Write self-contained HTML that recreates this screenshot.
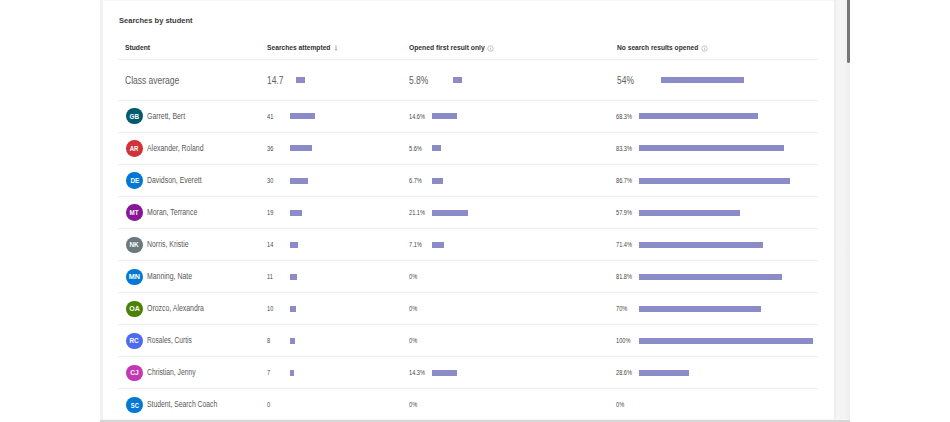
<!DOCTYPE html>
<html><head><meta charset="utf-8">
<style>
*{box-sizing:border-box;margin:0;padding:0}
html,body{width:950px;height:422px;overflow:hidden;background:#fff;font-family:"Liberation Sans",sans-serif}
.card{position:absolute;left:100px;top:0;width:734px;height:424px;background:#fff;border-left:3px solid #f1f1f1;border-top:1px solid #f7f7f7}
.track{position:absolute;left:834px;top:0;width:16px;height:422px;background:linear-gradient(to right,#ededed 0,#f0f0f0 2px,#f5f5f5 3px,#f4f4f4 11px,#f0f0f0 12px,#efefef 16px)}
.thumb{position:absolute;left:846.5px;top:0;width:3.2px;height:63px;background:#777777;border-radius:0 0 2px 2px}
.bottom{position:absolute;left:100px;top:420px;width:750px;height:2px;background:#d6d6d6}
.t{position:absolute;white-space:nowrap;line-height:1;transform-origin:0 0}
.sep{position:absolute;left:118px;width:700px;height:1px;background:#efefef}
.bar{position:absolute;height:6px;background:#8b8cc7}
.av{position:absolute;left:126.3px;width:16.4px;height:16.4px;border-radius:50%;color:#fff;font-size:7.0px;font-weight:700;text-align:center;line-height:16.4px}
.av span{display:inline-block;transform:scaleX(1.0);position:relative;top:0.6px}
.title{font-size:8.0px;font-weight:700;color:#3b3a39;transform:scaleX(0.94);letter-spacing:0px}
.hd{font-size:7.6px;font-weight:700;color:#323130;transform:scaleX(0.888);letter-spacing:0px}
.avg{font-size:10.2px;font-weight:400;color:#605e5c;transform:scaleX(0.833);letter-spacing:0px}
.nm{font-size:8.3px;font-weight:400;color:#5a5856;transform:scaleX(0.834);letter-spacing:0px}
.num{font-size:6.8px;font-weight:400;color:#484644;transform:scaleX(0.83);letter-spacing:0px}
</style></head><body>
<div class="card"></div>
<div class="track"></div>
<div class="thumb"></div>
<div class="t title" style="left:118.90px;top:16.58px">Searches by student</div>
<div class="t hd" style="left:124.80px;top:44.14px">Student</div>
<div class="t hd" style="left:266.90px;top:44.14px;transform:scaleX(0.8791)">Searches attempted</div>
<svg class="arrow" style="position:absolute;left:333.8px;top:45.4px" width="4" height="6" viewBox="0 0 4 6"><path d="M2 0.4V5.3M0.9 4.2L2 5.3L3.1 4.2" stroke="#8a8886" stroke-width="0.7" fill="none"/></svg>
<div class="t hd" style="left:408.90px;top:44.14px">Opened first result only</div>
<div class="t hd" style="left:617.00px;top:44.14px;transform:scaleX(0.8747)">No search results opened</div>
<svg style="position:absolute;left:487.20px;top:45.00px" width="7" height="7" viewBox="0 0 7 7"><circle cx="3.5" cy="3.5" r="2.75" stroke="#a19f9d" stroke-width="0.6" fill="none"/><path d="M3.5 3.1V5.1" stroke="#a19f9d" stroke-width="0.6"/><circle cx="3.5" cy="2.2" r="0.35" fill="#a19f9d"/></svg>
<svg style="position:absolute;left:700.50px;top:45.00px" width="7" height="7" viewBox="0 0 7 7"><circle cx="3.5" cy="3.5" r="2.75" stroke="#a19f9d" stroke-width="0.6" fill="none"/><path d="M3.5 3.1V5.1" stroke="#a19f9d" stroke-width="0.6"/><circle cx="3.5" cy="2.2" r="0.35" fill="#a19f9d"/></svg>
<div class="sep" style="top:59px"></div>
<div class="t avg" style="left:124.80px;top:75.50px">Class average</div>
<div class="t avg" style="left:266.70px;top:75.50px">14.7</div>
<div class="t avg" style="left:409.00px;top:75.50px">5.8%</div>
<div class="t avg" style="left:616.50px;top:75.50px">54%</div>
<div class="bar" style="left:296.2px;top:77.1px;width:9.0px"></div>
<div class="bar" style="left:453.1px;top:77.1px;width:8.7px"></div>
<div class="bar" style="left:660.6px;top:77.1px;width:83.4px"></div>
<div class="sep" style="top:100px"></div>
<div class="av" style="top:108.10px;background:#005b70"><span style="transform:scaleX(0.900)">GB</span></div>
<div class="t nm" style="left:146.50px;top:112.17px">Garrett, Bert</div>
<div class="t num" style="left:266.80px;top:113.82px">41</div>
<div class="t num" style="left:409.00px;top:113.82px">14.6%</div>
<div class="t num" style="left:616.00px;top:113.82px">68.3%</div>
<div class="bar" style="left:289.6px;top:113.30px;width:25.75px"></div>
<div class="bar" style="left:431.7px;top:113.30px;width:25.37px"></div>
<div class="bar" style="left:639.2px;top:113.30px;width:118.84px"></div>
<div class="sep" style="top:132px"></div>
<div class="av" style="top:140.20px;background:#d13438"><span style="transform:scaleX(0.860)">AR</span></div>
<div class="t nm" style="left:146.50px;top:144.17px">Alexander, Roland</div>
<div class="t num" style="left:266.80px;top:145.82px">36</div>
<div class="t num" style="left:409.00px;top:145.82px">5.6%</div>
<div class="t num" style="left:616.00px;top:145.82px">83.3%</div>
<div class="bar" style="left:289.6px;top:145.40px;width:22.61px"></div>
<div class="bar" style="left:431.7px;top:145.40px;width:9.73px"></div>
<div class="bar" style="left:639.2px;top:145.40px;width:144.94px"></div>
<div class="sep" style="top:164px"></div>
<div class="av" style="top:172.30px;background:#0078d4"><span style="transform:scaleX(0.920)">DE</span></div>
<div class="t nm" style="left:146.50px;top:176.17px">Davidson, Everett</div>
<div class="t num" style="left:266.80px;top:177.82px">30</div>
<div class="t num" style="left:409.00px;top:177.82px">6.7%</div>
<div class="t num" style="left:616.00px;top:177.82px">86.7%</div>
<div class="bar" style="left:289.6px;top:177.50px;width:18.84px"></div>
<div class="bar" style="left:431.7px;top:177.50px;width:11.64px"></div>
<div class="bar" style="left:639.2px;top:177.50px;width:150.86px"></div>
<div class="sep" style="top:196px"></div>
<div class="av" style="top:204.40px;background:#881798"><span style="transform:scaleX(0.890)">MT</span></div>
<div class="t nm" style="left:146.50px;top:208.17px">Moran, Terrance</div>
<div class="t num" style="left:266.80px;top:209.82px">19</div>
<div class="t num" style="left:409.00px;top:209.82px">21.1%</div>
<div class="t num" style="left:616.00px;top:209.82px">57.9%</div>
<div class="bar" style="left:289.6px;top:209.60px;width:11.93px"></div>
<div class="bar" style="left:431.7px;top:209.60px;width:36.67px"></div>
<div class="bar" style="left:639.2px;top:209.60px;width:100.75px"></div>
<div class="sep" style="top:228px"></div>
<div class="av" style="top:236.50px;background:#69797e"><span style="transform:scaleX(0.920)">NK</span></div>
<div class="t nm" style="left:146.50px;top:240.17px">Norris, Kristie</div>
<div class="t num" style="left:266.80px;top:241.82px">14</div>
<div class="t num" style="left:409.00px;top:241.82px">7.1%</div>
<div class="t num" style="left:616.00px;top:241.82px">71.4%</div>
<div class="bar" style="left:289.6px;top:241.70px;width:8.79px"></div>
<div class="bar" style="left:431.7px;top:241.70px;width:12.34px"></div>
<div class="bar" style="left:639.2px;top:241.70px;width:124.24px"></div>
<div class="sep" style="top:260px"></div>
<div class="av" style="top:268.60px;background:#0078d4"><span style="transform:scaleX(1.040)">MN</span></div>
<div class="t nm" style="left:146.50px;top:272.17px">Manning, Nate</div>
<div class="t num" style="left:266.80px;top:273.82px">11</div>
<div class="t num" style="left:409.00px;top:273.82px">0%</div>
<div class="t num" style="left:616.00px;top:273.82px">81.8%</div>
<div class="bar" style="left:289.6px;top:273.80px;width:6.91px"></div>
<div class="bar" style="left:639.2px;top:273.80px;width:142.33px"></div>
<div class="sep" style="top:292px"></div>
<div class="av" style="top:300.70px;background:#498205"><span>OA</span></div>
<div class="t nm" style="left:146.50px;top:304.17px">Orozco, Alexandra</div>
<div class="t num" style="left:266.80px;top:305.82px">10</div>
<div class="t num" style="left:409.00px;top:305.82px">0%</div>
<div class="t num" style="left:616.00px;top:305.82px">70%</div>
<div class="bar" style="left:289.6px;top:305.90px;width:6.28px"></div>
<div class="bar" style="left:639.2px;top:305.90px;width:121.80px"></div>
<div class="sep" style="top:324px"></div>
<div class="av" style="top:332.80px;background:#4f6bed"><span style="transform:scaleX(0.900)">RC</span></div>
<div class="t nm" style="left:146.50px;top:336.17px;transform:scaleX(0.7965)">Rosales, Curtis</div>
<div class="t num" style="left:266.80px;top:337.82px">8</div>
<div class="t num" style="left:409.00px;top:337.82px">0%</div>
<div class="t num" style="left:616.00px;top:337.82px">100%</div>
<div class="bar" style="left:289.6px;top:338.00px;width:5.02px"></div>
<div class="bar" style="left:639.2px;top:338.00px;width:174.00px"></div>
<div class="sep" style="top:356px"></div>
<div class="av" style="top:364.90px;background:#c239b3"><span style="transform:scaleX(0.950)">CJ</span></div>
<div class="t nm" style="left:146.50px;top:368.17px;transform:scaleX(0.8173)">Christian, Jenny</div>
<div class="t num" style="left:266.80px;top:369.82px">7</div>
<div class="t num" style="left:409.00px;top:369.82px">14.3%</div>
<div class="t num" style="left:616.00px;top:369.82px">28.6%</div>
<div class="bar" style="left:289.6px;top:370.10px;width:4.40px"></div>
<div class="bar" style="left:431.7px;top:370.10px;width:24.85px"></div>
<div class="bar" style="left:639.2px;top:370.10px;width:49.76px"></div>
<div class="sep" style="top:388px"></div>
<div class="av" style="top:397.00px;background:#0078d4"><span style="transform:scaleX(0.830)">SC</span></div>
<div class="t nm" style="left:146.50px;top:400.17px;transform:scaleX(0.8190)">Student, Search Coach</div>
<div class="t num" style="left:266.80px;top:401.82px">0</div>
<div class="t num" style="left:409.00px;top:401.82px">0%</div>
<div class="t num" style="left:616.00px;top:401.82px">0%</div>
<div style="position:absolute;left:103px;top:418.5px;width:747px;height:1px;background:#f6f6f6"></div>
<div class="bottom"></div>
</body></html>
